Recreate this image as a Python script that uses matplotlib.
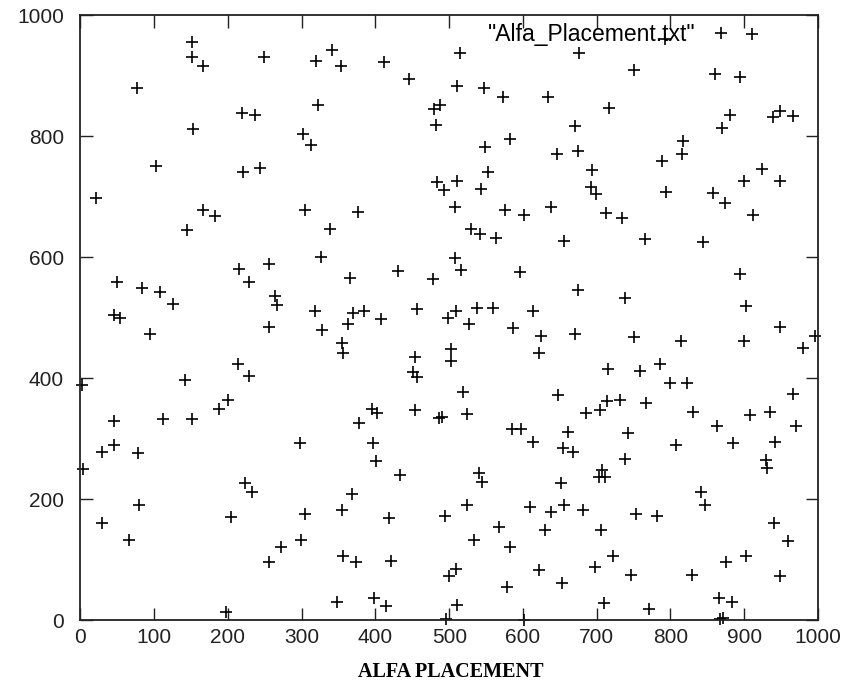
import matplotlib.pyplot as plt

# node positions read from the placement file (x, y on a 1000 x 1000 field)
node_x = [151, 151, 166, 249, 319, 77, 322, 219, 236, 153, 302, 312, 103, 243, 221, 21, 166, 183, 305,
          341, 353, 411, 515, 446, 511, 547, 573, 634, 487, 479, 482, 583, 548, 646, 552, 483, 493, 511, 543,
          376, 508, 576, 602, 638,
          792, 911, 676, 750, 860, 894, 716, 881, 939, 948, 966, 670, 870, 817, 815, 675, 788, 924, 693, 900,
          948, 692, 699, 794, 858, 874, 712, 734, 912,
          145, 326, 215, 256, 49, 228, 84, 108, 264, 266, 126, 46, 53, 318, 255, 328, 94, 213, 229, 142, 2,
          200, 188,
          338, 530, 542, 563, 655, 508, 516, 431, 596, 365, 478, 456, 370, 384, 538, 560, 614, 509, 499, 408,
          363, 527, 587, 624, 354, 356, 503, 503, 622, 453, 451, 456, 519, 647, 395, 402, 454, 486, 490, 524,
          765, 844, 894, 674, 739, 902, 949, 996, 670, 751, 814, 899, 979, 786, 715, 759, 799, 822, 966, 714,
          731, 767, 704, 685, 830, 908, 935,
          45, 112, 151, 29, 45, 78, 298, 3, 223, 232, 80, 204, 305, 29, 66, 299, 272, 256, 198,
          378, 585, 597, 661, 614, 654, 397, 401, 433, 541, 545, 652, 368, 354, 419, 524, 494, 609, 638, 655,
          567, 630, 533, 582, 356, 374, 421, 509, 500, 622, 579, 653, 348, 398, 414, 511, 496, 601,
          863, 970, 742, 808, 885, 942, 668, 739, 930, 931, 707, 703, 711, 842, 847, 682, 753, 782, 940, 706,
          960, 722, 698, 875, 902, 747, 829, 949, 710, 771, 866, 884, 867, 871]
node_y = [956, 930, 916, 930, 924, 880, 851, 838, 834, 812, 803, 785, 750, 747, 740, 697, 678, 668, 678,
          942, 916, 923, 937, 895, 883, 880, 865, 864, 852, 845, 819, 795, 782, 770, 740, 724, 710, 725, 712,
          674, 683, 677, 669, 683,
          961, 968, 938, 909, 902, 897, 846, 835, 832, 841, 833, 817, 814, 792, 770, 776, 758, 745, 744, 726,
          726, 716, 704, 708, 706, 690, 672, 664, 669,
          645, 600, 580, 588, 558, 558, 548, 543, 536, 521, 522, 504, 500, 511, 485, 479, 473, 423, 403, 397,
          388, 363, 348,
          647, 646, 638, 631, 626, 598, 579, 577, 576, 566, 563, 514, 508, 511, 516, 516, 511, 511, 500, 497,
          490, 490, 482, 469, 458, 441, 448, 428, 441, 434, 410, 402, 377, 372, 348, 342, 347, 334, 336, 341,
          630, 625, 572, 546, 532, 519, 485, 469, 473, 467, 461, 461, 450, 423, 415, 412, 391, 391, 374, 362,
          363, 359, 347, 342, 344, 339, 344,
          329, 333, 332, 278, 290, 276, 292, 250, 226, 212, 190, 170, 175, 161, 133, 132, 120, 96, 13,
          326, 315, 315, 310, 295, 284, 292, 263, 240, 243, 228, 227, 208, 182, 168, 190, 172, 187, 179, 190,
          153, 149, 132, 121, 106, 96, 98, 84, 72, 83, 55, 62, 30, 36, 23, 25, 1, 0,
          321, 321, 309, 289, 292, 295, 278, 266, 265, 252, 248, 236, 236, 212, 190, 182, 175, 172, 161, 149,
          130, 106, 87, 96, 106, 74, 74, 72, 28, 18, 36, 29, 2, 4]

x_ticks = [0, 100, 200, 300, 400, 500, 600, 700, 800, 900, 1000]
y_ticks = [0, 200, 400, 600, 800, 1000]

plt.rcParams['font.family'] = ['Liberation Sans', 'DejaVu Sans']

fig = plt.figure(figsize=(8.56, 6.98), dpi=100)
ax = fig.add_axes([0.094, 0.1117, 0.8616, 0.8668])

ax.plot(node_x, node_y, '+', color='black', markersize=8.5, markeredgewidth=1.2,
        clip_on=False, label='"Alfa_Placement.txt"')

ax.set_xlim(0, 1000)
ax.set_ylim(0, 1000)
ax.set_xticks(x_ticks)
ax.set_yticks(y_ticks)
ax.tick_params(direction='in', length=9, width=1, top=True, right=True,
               labelsize=15, colors='#222222')
ax.tick_params(axis='x', pad=6)
ax.tick_params(axis='y', pad=12)
for s in ax.spines.values():
    s.set_linewidth(1.3)
    s.set_color('#222222')

ax.legend(loc='center right', bbox_to_anchor=(0.89, 0.967), frameon=False,
          markerfirst=False, handlelength=1.4, handletextpad=0.4,
          borderpad=0, borderaxespad=0, prop={'family': 'Liberation Sans', 'size': 16.5})

fig.text(0.526, 0.037, 'ALFA PLACEMENT', ha='center', va='center',
         family='Liberation Serif', weight='bold', fontsize=14.5)

fig.savefig('out.png', dpi=100)
